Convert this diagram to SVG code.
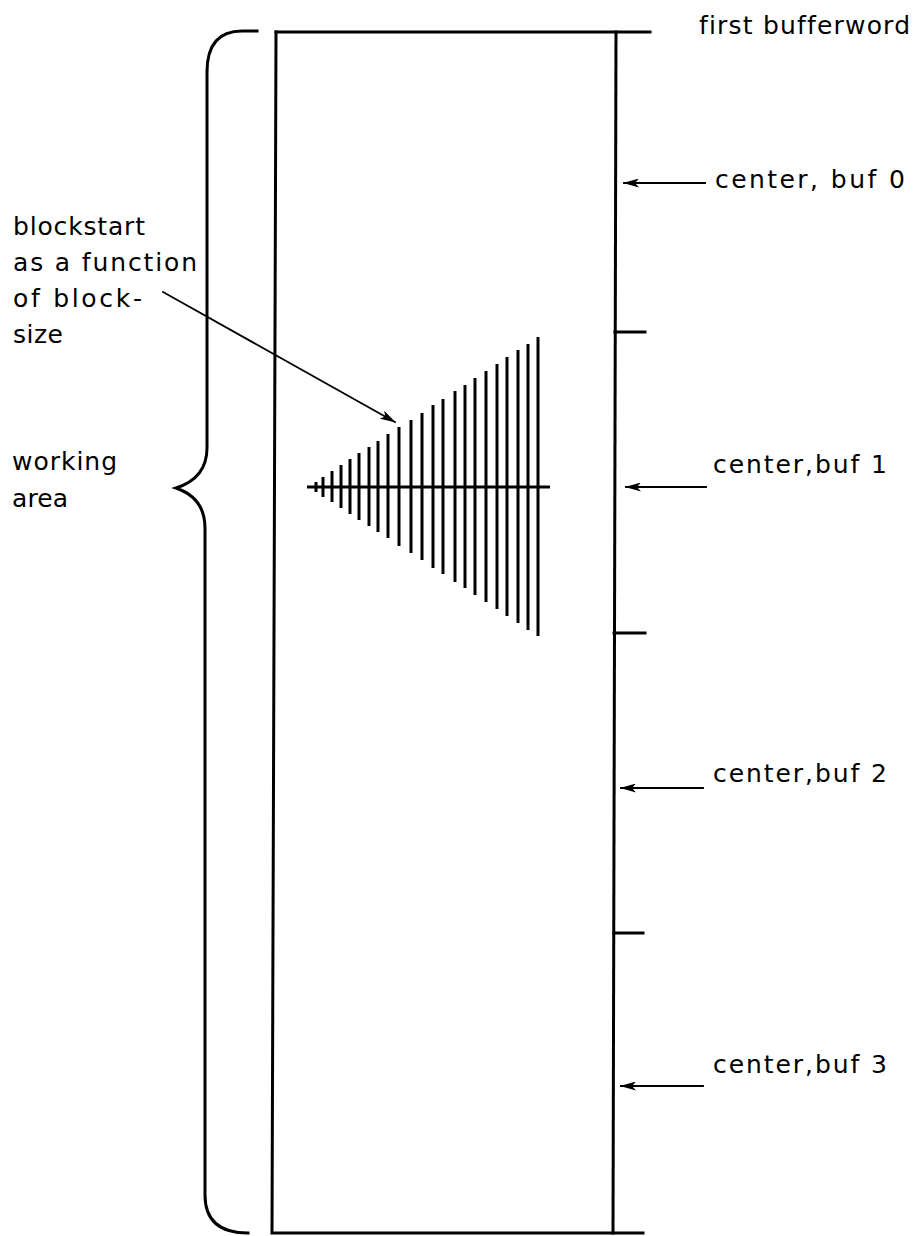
<svg xmlns="http://www.w3.org/2000/svg" width="919" height="1236" viewBox="0 0 919 1236">
  <style>
    .ln { stroke: #000; fill: none; stroke-linecap: square; }
    .txt { font-family: "DejaVu Sans", "Liberation Sans", sans-serif; font-size: 25px; fill: #000; font-variant-ligatures: none; }
    .bar { stroke: #000; stroke-width: 3; }
  </style>
  <defs>
    <marker id="head" markerWidth="16" markerHeight="9" refX="15" refY="4.5" orient="auto" markerUnits="userSpaceOnUse">
      <path d="M0,0 L16,4.5 L0,9 L4,4.5 Z" fill="#000"/>
    </marker>
  </defs>

  <!-- buffer area box with scale ticks -->
  <g id="buffer-box">
    <path class="ln" stroke-width="3" d="M276,32 H650"/>
    <path class="ln" stroke-width="3" d="M276,32 L272,1233 H643"/>
    <path class="ln" stroke-width="3" d="M616,32 L613,1233"/>
    <path class="ln" stroke-width="3" d="M615,332 H645"/>
    <path class="ln" stroke-width="3" d="M614,633 H645"/>
    <path class="ln" stroke-width="3" d="M614,933 H643"/>
  </g>

  <!-- brace marking the working area -->
  <g id="working-brace">
    <path class="ln" stroke-width="3" d="M257,31 H242 Q207,31 207,72 V448 Q207,478 176,488 Q205,498 205,528 V1195 Q205,1233 248,1233"/>
  </g>

  <!-- blockstart spread around buffer 1 centre -->
  <g id="blockstart-fan">
    <line class="bar" x1="307" y1="487" x2="550" y2="487"/>
    <line class="bar" x1="316" y1="482" x2="316" y2="492"/>
    <line class="bar" x1="323" y1="477" x2="323" y2="497"/>
    <line class="bar" x1="332" y1="471" x2="332" y2="502"/>
    <line class="bar" x1="341" y1="465" x2="341" y2="508"/>
    <line class="bar" x1="350" y1="459" x2="350" y2="514"/>
    <line class="bar" x1="359" y1="453" x2="359" y2="520"/>
    <line class="bar" x1="369" y1="447" x2="369" y2="526"/>
    <line class="bar" x1="378" y1="441" x2="378" y2="532"/>
    <line class="bar" x1="388" y1="434" x2="388" y2="538"/>
    <line class="bar" x1="399" y1="427" x2="399" y2="546"/>
    <line class="bar" x1="411" y1="420" x2="411" y2="553"/>
    <line class="bar" x1="422" y1="413" x2="422" y2="560"/>
    <line class="bar" x1="433" y1="405" x2="433" y2="568"/>
    <line class="bar" x1="443" y1="399" x2="443" y2="574"/>
    <line class="bar" x1="455" y1="391" x2="455" y2="582"/>
    <line class="bar" x1="465" y1="385" x2="465" y2="588"/>
    <line class="bar" x1="475" y1="378" x2="475" y2="595"/>
    <line class="bar" x1="486" y1="371" x2="486" y2="602"/>
    <line class="bar" x1="497" y1="364" x2="497" y2="609"/>
    <line class="bar" x1="507" y1="357" x2="507" y2="616"/>
    <line class="bar" x1="518" y1="350" x2="518" y2="623"/>
    <line class="bar" x1="528" y1="344" x2="528" y2="630"/>
    <line class="bar" x1="538" y1="337" x2="538" y2="636"/>
  </g>

  <!-- labels -->
  <g id="label-first">
    <text class="txt" x="699" y="34" textLength="211" lengthAdjust="spacing">first bufferword</text>
  </g>
  <g id="label-buf0">
    <text class="txt" x="715" y="188" textLength="190" lengthAdjust="spacing">center, buf 0</text>
  </g>
  <g id="label-buf1">
    <text class="txt" x="713" y="473" textLength="174" lengthAdjust="spacing">center,buf 1</text>
  </g>
  <g id="label-buf2">
    <text class="txt" x="713" y="782" textLength="174" lengthAdjust="spacing">center,buf 2</text>
  </g>
  <g id="label-buf3">
    <text class="txt" x="713" y="1073" textLength="174" lengthAdjust="spacing">center,buf 3</text>
  </g>
  <g id="label-blockstart">
    <text class="txt" x="13" y="235" textLength="132" lengthAdjust="spacing">blockstart</text>
    <text class="txt" x="13" y="271" textLength="184" lengthAdjust="spacing">as a function</text>
    <text class="txt" x="13" y="307" textLength="129" lengthAdjust="spacing">of block-</text>
    <text class="txt" x="13" y="343" textLength="50" lengthAdjust="spacing">size</text>
  </g>
  <g id="label-working">
    <text class="txt" x="12" y="470" textLength="105" lengthAdjust="spacing">working</text>
    <text class="txt" x="12" y="507" textLength="56" lengthAdjust="spacing">area</text>
  </g>

  <!-- pointer arrows -->
  <g id="connectors">
    <line class="ln" stroke-width="1.8" x1="163" y1="292" x2="395" y2="422" marker-end="url(#head)"/>
    <line class="ln" stroke-width="1.8" x1="705" y1="183" x2="624" y2="183" marker-end="url(#head)"/>
    <line class="ln" stroke-width="1.8" x1="706" y1="487" x2="626" y2="487" marker-end="url(#head)"/>
    <line class="ln" stroke-width="1.8" x1="703" y1="788" x2="621" y2="788" marker-end="url(#head)"/>
    <line class="ln" stroke-width="1.8" x1="703" y1="1086" x2="621" y2="1086" marker-end="url(#head)"/>
  </g>
</svg>
